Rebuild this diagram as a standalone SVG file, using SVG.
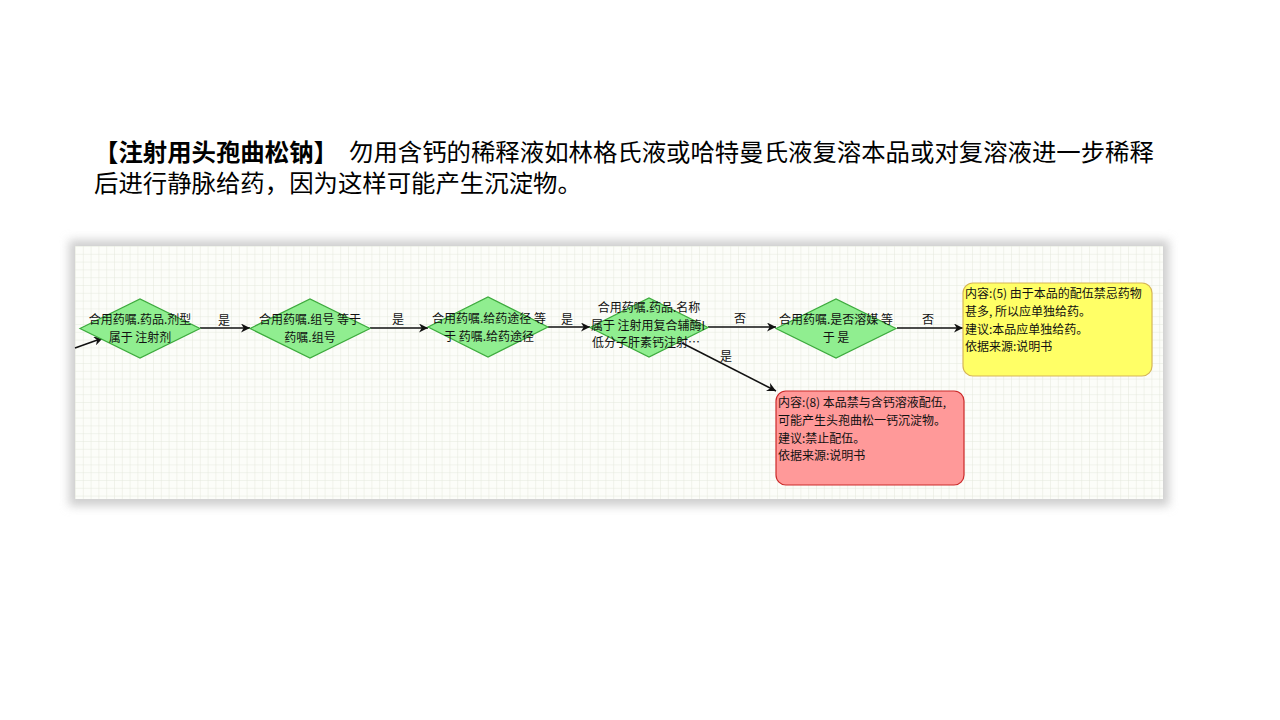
<svg xmlns="http://www.w3.org/2000/svg" width="1280" height="720" viewBox="0 0 1280 720">
<style>
.title{font-family:"Liberation Sans","Noto Sans CJK SC",sans-serif;font-size:24.4px;fill:#000}
.t{font-family:"Noto Sans CJK SC",sans-serif;font-size:12px;fill:#111}
.c{text-anchor:middle}
.dia{fill:#90ee90;stroke:#3caa3c;stroke-width:1.2}
.edge{stroke:#111;stroke-width:1.5;fill:none;marker-end:url(#arr)}
</style>
<defs>
<pattern id="grid" patternUnits="userSpaceOnUse" x="75" y="246" width="7.8" height="7.8">
<rect width="7.8" height="7.8" fill="#fcfdf9"/>
<path d="M0,0 H7.8 M0,0 V7.8" stroke="#e5e9dd" stroke-width="1"/>
</pattern>
<filter id="sh" x="-5%" y="-15%" width="110%" height="130%">
<feGaussianBlur stdDeviation="5"/>
</filter>
<marker id="arr" viewBox="0 0 10 10" refX="10" refY="5" markerWidth="9" markerHeight="9" markerUnits="userSpaceOnUse" orient="auto">
<path d="M0,0 L10,5 L0,10 L3,5 z" fill="#111"/>
</marker>
</defs>
<rect width="1280" height="720" fill="#fff"/>
<g id="title">
<text class="title" y="161"><tspan x="94" font-weight="bold">【注射用头孢曲松钠】</tspan><tspan x="349">勿用含钙的稀释液如林格氏液或哈特曼氏液复溶本品或对复溶液进一步稀释</tspan></text>
<text class="title" x="94" y="192">后进行静脉给药，因为这样可能产生沉淀物。</text>
</g>
<g id="frame">
<rect x="69" y="240" width="1100" height="266" fill="#cfcfcf" filter="url(#sh)"/>
<rect x="75" y="246" width="1088" height="253" fill="url(#grid)"/>
</g>
<g id="connectors">
<line class="edge" x1="75" y1="348" x2="103" y2="338"/>
<line class="edge" x1="200" y1="328" x2="250" y2="328"/>
<line class="edge" x1="370" y1="328" x2="428" y2="328"/>
<line class="edge" x1="548" y1="327" x2="590" y2="327"/>
<line class="edge" x1="708" y1="327" x2="776" y2="327"/>
<line class="edge" x1="897" y1="328" x2="963" y2="328"/>
<line class="edge" x1="682" y1="343" x2="776" y2="391"/>
<text class="t c" x="224" y="325">是</text>
<text class="t c" x="398" y="324">是</text>
<text class="t c" x="567" y="324">是</text>
<text class="t c" x="740" y="323">否</text>
<text class="t c" x="928" y="324">否</text>
<text class="t c" x="726" y="361">是</text>
</g>
<g id="n1">
<polygon class="dia" points="80,328.5 140,299 200,328.5 140,358"/>
<text class="t c" x="140" y="324">合用药嘱.药品.剂型</text>
<text class="t c" x="140" y="342">属于 注射剂</text>
</g>
<g id="n2">
<polygon class="dia" points="250,328.5 310,299 370,328.5 310,358"/>
<text class="t c" x="310" y="324">合用药嘱.组号 等于</text>
<text class="t c" x="310" y="342">药嘱.组号</text>
</g>
<g id="n3">
<polygon class="dia" points="428,327 488,297 548,327 488,357"/>
<text class="t c" x="489" y="323">合用药嘱.给药途径 等</text>
<text class="t c" x="489" y="341">于 药嘱.给药途径</text>
</g>
<g id="n4">
<polygon class="dia" points="590,327.5 649,298 708,327.5 649,357"/>
<text class="t c" x="649" y="312">合用药嘱.药品.名称</text>
<text class="t c" x="648" y="330">属于 注射用复合辅酶I</text>
<text class="t c" x="646" y="347">低分子肝素钙注射…</text>
</g>
<g id="n5">
<polygon class="dia" points="776,328.5 836,299 896,328.5 836,358"/>
<text class="t c" x="836" y="324">合用药嘱.是否溶媒 等</text>
<text class="t c" x="836" y="342">于 是</text>
</g>
<g id="n6">
<rect x="963" y="283" width="189" height="93" rx="10" fill="#ffff66" stroke="#d6b656" stroke-width="1.2"/>
<text class="t" x="965" y="298">内容:(5) 由于本品的配伍禁忌药物</text>
<text class="t" x="965" y="316">甚多, 所以应单独给药。</text>
<text class="t" x="965" y="334">建议:本品应单独给药。</text>
<text class="t" x="965" y="351">依据来源:说明书</text>
</g>
<g id="n7">
<rect x="776" y="391" width="188" height="94" rx="10" fill="#ff9999" stroke="#cc2a2a" stroke-width="1.2"/>
<text class="t" x="778" y="407">内容:(8) 本品禁与含钙溶液配伍,</text>
<text class="t" x="778" y="425">可能产生头孢曲松一钙沉淀物。</text>
<text class="t" x="778" y="443">建议:禁止配伍。</text>
<text class="t" x="778" y="460">依据来源:说明书</text>
</g>
</svg>
